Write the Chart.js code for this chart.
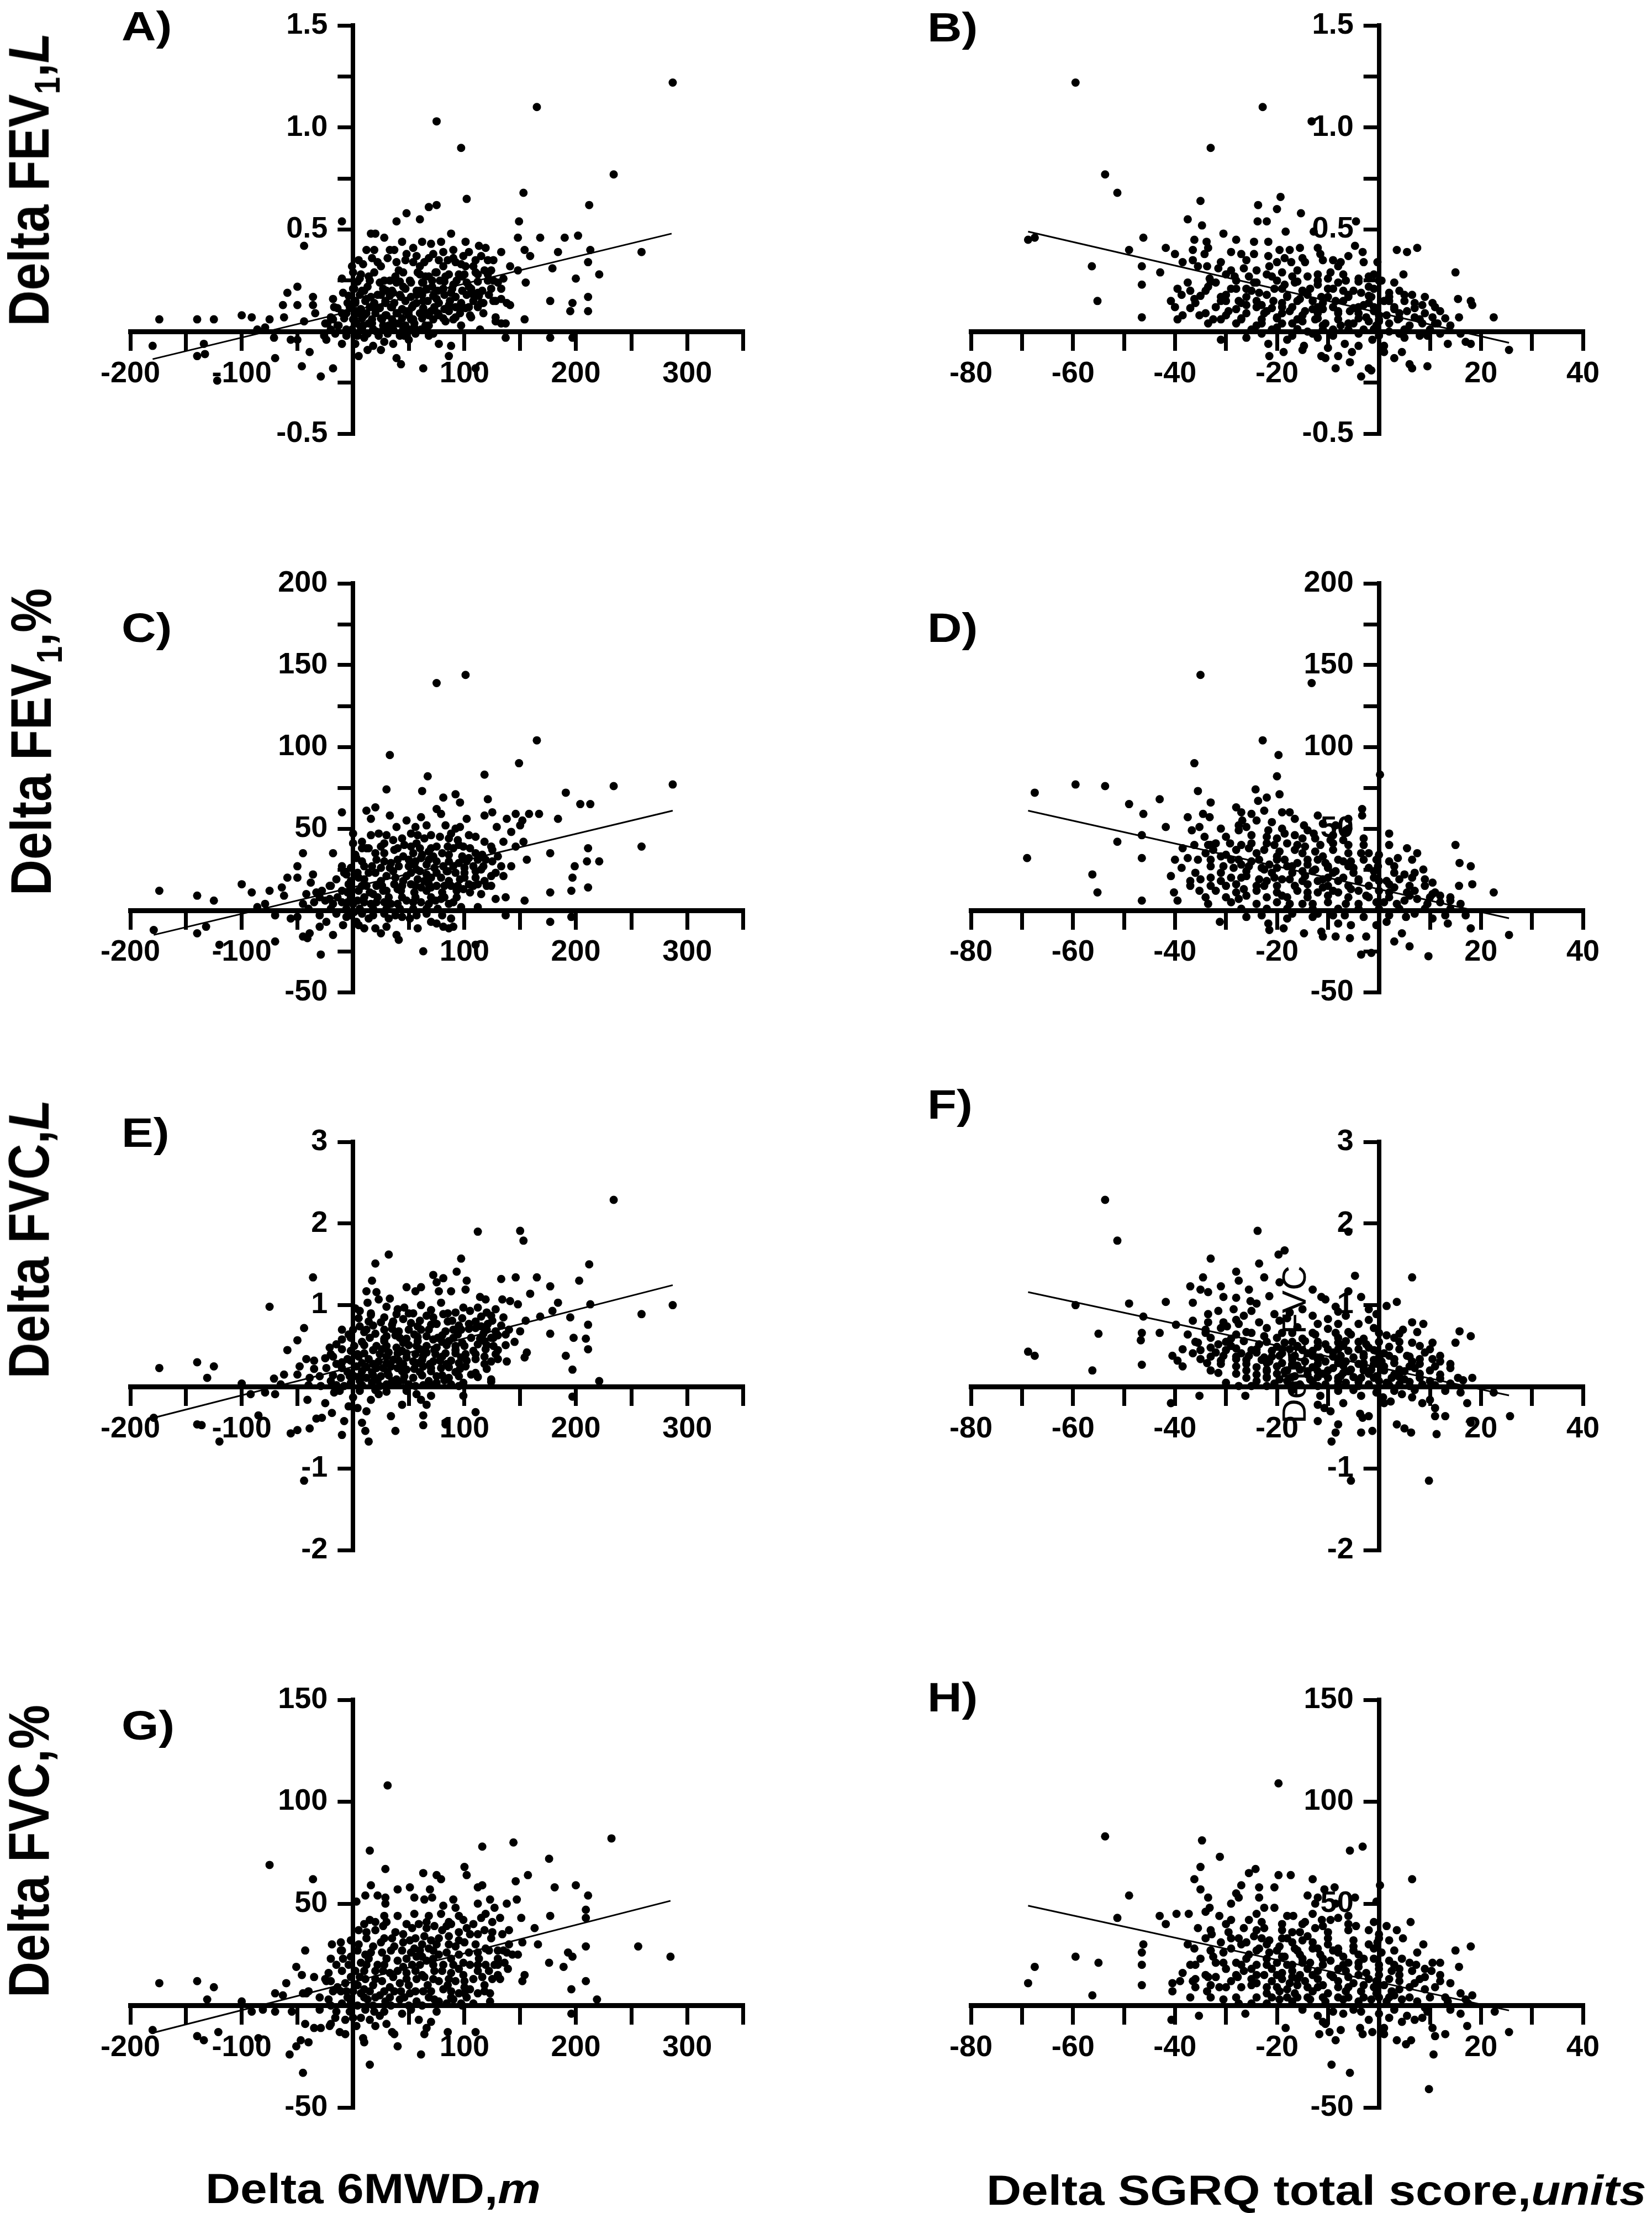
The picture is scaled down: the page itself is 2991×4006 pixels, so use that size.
<!DOCTYPE html>
<html>
<head>
<meta charset="utf-8">
<script src="https://cdn.jsdelivr.net/npm/chart.js@4.4.1/dist/chart.umd.min.js"></script>
<style>
html, body { margin: 0; padding: 0; background: #fff; }
#fig { position: relative; width: 2991px; height: 4006px; overflow: hidden; background: #fff; }
canvas { position: absolute; }
.txt { position: absolute; font-family: 'Liberation Sans', Arial, sans-serif; font-weight: bold; color: #000; white-space: nowrap; line-height: 1; }
.letter { font-size: 74px; transform-origin: 0 50%; transform: translateY(-50%) scaleX(1.17); }
.ytitle { font-size: 90px; transform: translate(-50%, -50%) rotate(-90deg) scaleY(1.16); }
.xtitle { font-size: 76px; transform-origin: 0 50%; transform: translateY(-50%) scaleX(1.15); }
.sub { font-size: 62%; position: relative; top: 0.3em; }
</style>
</head>
<body>
<div id="fig">
  <canvas id="cA" width="1360" height="879" style="left:60px;top:-14px"></canvas>
  <canvas id="cB" width="1400" height="879" style="left:1560px;top:-14px"></canvas>
  <canvas id="cC" width="1360" height="880" style="left:60px;top:996px"></canvas>
  <canvas id="cD" width="1400" height="880" style="left:1560px;top:996px"></canvas>
  <canvas id="cE" width="1360" height="879" style="left:60px;top:2007px"></canvas>
  <canvas id="cF" width="1400" height="879" style="left:1560px;top:2007px"></canvas>
  <canvas id="cG" width="1360" height="878" style="left:60px;top:3017px"></canvas>
  <canvas id="cH" width="1400" height="878" style="left:1560px;top:3017px"></canvas>

  <div class="txt letter" style="left:220px;top:48px">A)</div>
  <div class="txt letter" style="left:1679px;top:50px">B)</div>
  <div class="txt letter" style="left:220px;top:1137px">C)</div>
  <div class="txt letter" style="left:1679px;top:1137px">D)</div>
  <div class="txt letter" style="left:220px;top:2051px">E)</div>
  <div class="txt letter" style="left:1679px;top:2000px">F)</div>
  <div class="txt letter" style="left:220px;top:3124px">G)</div>
  <div class="txt letter" style="left:1679px;top:3073px">H)</div>

  <div class="txt ytitle" style="left:52px;top:325px">Delta FEV<span class="sub">1</span>,<i>L</i></div>
  <div class="txt ytitle" style="left:56px;top:1343px">Delta FEV<span class="sub">1</span>,%</div>
  <div class="txt ytitle" style="left:52px;top:2243px">Delta FVC,<i>L</i></div>
  <div class="txt ytitle" style="left:52px;top:3351px">Delta FVC,%</div>

  <div class="txt xtitle" style="left:372px;top:3962px">Delta 6MWD,<i>m</i></div>
  <div class="txt xtitle" style="left:1786px;top:3965px">Delta SGRQ total score,<i>units</i></div>

  <div class="txt" style="left:2343px;top:2434px;font-size:62px;font-weight:normal;transform:translate(-50%,-50%) rotate(-90deg)">Delta FVC</div>
</div>

<script>
// axis ranges [min, max, step] and the ticks that carry a label
const mwdRange = [-200, 350, 50];
const sgrqRange = [-80, 40, 10];
const fev1LRange = [-0.5, 1.5, 0.25];
const fev1PctRange = [-50, 200, 25];
const fvcLRange = [-2, 3, 1];
const fvcPctRange = [-50, 150, 50];

const mwdLabels = [-200, -100, 100, 200, 300];
const sgrqLabels = [-80, -60, -40, -20, 20, 40];
const fev1LLabels = [-0.5, 0.5, 1.0, 1.5];
const fev1PctLabels = [-50, 50, 100, 150, 200];
const fvcLLabels = [-2, -1, 1, 2, 3];
const fvcPctLabels = [-50, 50, 100, 150];

// A) delta 6MWD vs delta FEV1 (L)
const mwdFev1L = [[287,1.22],[165,1.10],[75,1.03],[97,0.90],[234,0.77],[153,0.68],[102,0.65],[212,0.62],[75,0.62],[68,0.61],[48,0.58],[60,0.55],[39,0.54],[-10,0.54],[149,0.54],[148,0.46],[168,0.46],[190,0.46],[202,0.47],[-44,0.42],[213,0.40],[184,0.39],[259,0.39],[159,0.37],[154,0.40],[179,0.31],[200,0.26],[211,0.34],[221,0.28],[177,0.15],[197,0.14],[211,0.17],[211,0.10],[195,0.10],[155,0.24],[154,0.06],[177,-0.03],[197,-0.03],[137,-0.03],[148,0.30],[141,0.32],[133,0.39],[135,0.26],[138,0.14],[141,0.13],[137,0.04],[114,0.01],[110,-0.18],[63,-0.18],[86,-0.12],[88,-0.07],[77,-0.06],[50,-0.04],[39,-0.13],[43,-0.16],[5,-0.12],[13,-0.09],[25,-0.09],[-10,-0.06],[-18,-0.18],[-29,-0.22],[-46,-0.17],[-39,-0.10],[-56,-0.04],[-50,-0.04],[-70,-0.13],[-71,-0.03],[-122,-0.24],[-133,-0.11],[-140,-0.12],[-134,-0.06],[-180,-0.07],[-174,0.06],[-140,0.06],[-125,0.06],[-100,0.08],[-91,0.07],[-75,0.06],[-86,0.01],[-79,0.02],[-62,0.07],[-63,0.13],[-59,0.19],[-50,0.22],[-50,0.13],[-36,0.17],[-36,0.13],[-44,0.05],[-34,0.09],[-25,0.04],[-24,-0.04],[-20,0.07],[-17,0.12],[-18,0.16],[-10,0.26],[-9,0.19],[-6,0.09],[-6,0.01],[-1,0.32],[0,0.29],[0,0.21],[2,0.15],[3,0.10],[1,0.06],[3,-0.01],[10,-0.03],[12,0.40],[16,0.48],[20,0.48],[28,0.46],[19,0.40],[14,0.27],[13,0.22],[12,0.16],[12,0.09],[14,0.04],[21,0.00],[25,0.32],[28,0.25],[30,0.20],[29,0.14],[29,0.08],[32,0.03],[33,0.40],[37,0.40],[39,0.34],[41,0.30],[39,0.24],[43,0.17],[39,0.09],[41,0.04],[46,-0.02],[48,0.38],[54,0.41],[54,0.34],[58,0.29],[52,0.24],[57,0.18],[54,0.13],[50,0.08],[54,0.06],[61,0.01],[60,0.32],[63,0.24],[63,0.15],[66,0.09],[68,0.03],[70,0.43],[72,0.38],[74,0.29],[71,0.22],[75,0.16],[77,0.08],[72,-0.01],[79,0.44],[81,0.39],[81,0.32],[83,0.27],[81,0.21],[86,0.13],[83,0.05],[88,0.48],[90,0.40],[92,0.34],[90,0.23],[92,0.17],[92,0.07],[97,0.03],[101,0.44],[104,0.39],[101,0.32],[100,0.28],[104,0.22],[104,0.12],[106,0.07],[110,0.35],[112,0.28],[112,0.19],[115,0.14],[117,0.09],[119,0.41],[121,0.35],[124,0.30],[121,0.25],[124,0.21],[126,0.15],[128,0.07],[126,0.35],[130,0.24],[133,0.16],[128,0.05],[133,0.04],[5,0.35],[8,0.20],[18,0.12],[22,0.18],[35,0.12],[45,0.22],[47,0.10],[60,0.20],[65,0.27],[68,0.36],[78,0.25],[85,0.35],[95,0.28],[97,0.12],[108,0.18],[118,0.30],[-5,0.14],[6,0.26],[26,0.06],[36,0.19],[55,0.02],[70,0.10],[88,0.19],[99,0.37],[113,0.42],[-14,0.03],[7,0.02],[17,0.36],[44,0.44],[62,0.44]];
const mwdFev1LCore = [[7,0.28],[19,0.29],[38,0.27],[45,0.29],[60,0.28],[68,0.27],[75,0.29],[86,0.28],[98,0.27],[110,0.29],[121,0.28],[1,0.21],[10,0.20],[27,0.21],[35,0.20],[47,0.21],[57,0.20],[66,0.21],[76,0.20],[89,0.21],[98,0.20],[106,0.21],[116,0.20],[133,0.21],[2,0.14],[11,0.15],[19,0.14],[29,0.15],[37,0.14],[47,0.15],[57,0.14],[67,0.15],[77,0.14],[87,0.15],[97,0.14],[108,0.15],[117,0.14],[128,0.15],[-10,0.09],[4,0.09],[10,0.08],[20,0.09],[30,0.08],[40,0.09],[50,0.10],[60,0.09],[68,0.08],[76,0.09],[86,0.10],[96,0.09],[105,0.08],[-23,0.04],[-13,0.03],[3,0.04],[9,0.03],[17,0.04],[27,0.03],[38,0.04],[47,0.03],[55,0.04],[65,0.03],[-26,-0.02],[-16,-0.01],[-6,-0.02],[4,-0.02],[13,-0.01],[23,-0.02],[31,-0.01],[42,-0.02],[56,-0.01],[68,-0.02],[2,-0.06],[18,-0.07],[28,-0.05],[36,-0.06]];
const mwdFev1LFill = [[4,0.245],[15,0.25],[24,0.24],[33,0.25],[42,0.245],[51,0.25],[62,0.24],[71,0.25],[82,0.245],[93,0.25],[102,0.24],[112,0.245],[126,0.25],[-4,0.175],[6,0.18],[16,0.17],[25,0.18],[33,0.175],[42,0.18],[52,0.17],[62,0.18],[72,0.175],[82,0.18],[92,0.17],[102,0.18],[113,0.175],[122,0.18],[-14,0.115],[-3,0.12],[7,0.11],[15,0.12],[24,0.115],[34,0.12],[44,0.11],[53,0.12],[63,0.115],[73,0.12],[82,0.11],[92,0.12],[101,0.115],[112,0.12],[-18,0.06],[-8,0.065],[0,0.06],[8,0.065],[17,0.06],[25,0.065],[35,0.06],[44,0.065],[52,0.06],[62,0.065],[72,0.06],[81,0.065],[90,0.06],[9,0.33],[22,0.34],[31,0.36],[47,0.35],[57,0.37],[64,0.34],[77,0.35],[90,0.36],[97,0.33],[108,0.32],[115,0.37],[-20,0.01],[-1,0.01],[8,0.01],[18,0.012],[27,0.01],[36,0.01],[45,0.012],[52,0.01],[64,0.01]];

// B) delta SGRQ vs delta FEV1 (L)
const sgrqFev1L = [[-59.5,1.22],[-22.8,1.10],[-13.2,1.03],[-33,0.90],[-53.7,0.77],[-51.3,0.68],[-19.3,0.66],[-35,0.64],[-23.7,0.62],[-20,0.60],[-15.3,0.58],[-23.8,0.54],[-22,0.54],[-37.5,0.55],[-34.7,0.52],[-4.5,0.54],[-12.8,0.49],[-18.3,0.49],[-30.5,0.48],[-28,0.45],[-36.2,0.45],[-46.2,0.46],[-68.8,0.45],[-67.5,0.46],[-49,0.40],[-41.8,0.41],[-40,0.38],[-36.5,0.40],[-33.8,0.44],[-33.5,0.41],[-34.2,0.38],[-36.5,0.35],[-38.5,0.34],[-35.5,0.32],[-33.7,0.32],[-31.5,0.31],[-29,0.39],[-27,0.38],[-24.5,0.44],[-21.7,0.44],[-24.5,0.38],[-21.7,0.37],[-19.5,0.40],[-17.5,0.40],[-18.5,0.36],[-17.2,0.34],[-15.5,0.41],[-14.5,0.34],[-12,0.41],[-11.5,0.38],[-11,0.35],[-7.5,0.34],[-6,0.37],[-4.7,0.42],[-3.2,0.39],[3.5,0.40],[5.5,0.39],[7.5,0.41],[-0.3,0.34],[4.8,0.28],[15,0.29],[-56.3,0.32],[-55.2,0.15],[-46.5,0.32],[-46.5,0.23],[-46.5,0.07],[-42.9,0.29],[-39.5,0.21],[-37.5,0.24],[-38.7,0.18],[-37,0.20],[-40.8,0.15],[-40,0.12],[-39.5,0.06],[-38.5,0.08],[-36.2,0.16],[-35.2,0.08],[-33.5,0.04],[-32.5,0.06],[-33.2,0.26],[-33.5,0.22],[-32,0.24],[-31,0.17],[-30,0.15],[-29.5,0.10],[-28.3,0.27],[-28,0.21],[-27.5,0.15],[-27,0.06],[-26.5,0.31],[-25.5,0.27],[-26,0.13],[-25,0.01],[-24.5,0.24],[-23.5,0.19],[-23,0.13],[-22.5,0.09],[-21.5,0.32],[-21,0.27],[-20.5,0.21],[-20.7,0.15],[-20,0.07],[-19,0.29],[-18.5,0.23],[-18,0.17],[-17.5,0.10],[-17,0.04],[-16.5,0.24],[-15.5,0.16],[-14.5,0.10],[-14,0.27],[-13.5,0.21],[-13,0.15],[-12.5,0.06],[-12,0.23],[-11.3,0.17],[-11,0.11],[-10.5,0.04],[-9.5,0.29],[-9,0.21],[-8.5,0.15],[-8,0.09],[-7.5,0.03],[-6.5,0.25],[-6,0.17],[-5.7,0.10],[-5,0.04],[-4,0.26],[-3.5,0.19],[-3,0.13],[-2.5,0.07],[-1.5,0.17],[-1,0.10],[-0.5,0.03],[0.5,0.25],[1,0.15],[1.5,0.08],[2,0.19],[3,0.12],[3.7,0.06],[5,0.15],[5.5,0.10],[6.5,0.18],[7,0.07],[8.5,0.13],[8.5,0.04],[10.5,0.14],[10.5,0.07],[11.5,0.04],[15.5,0.16],[15.7,0.07],[18,0.15],[18.3,0.13],[22.5,0.07],[25.5,-0.09],[-31,-0.04],[-26,-0.03],[-21.7,-0.06],[-21.5,-0.12],[-18.7,-0.10],[-18,-0.04],[-14.7,-0.07],[-12,-0.03],[-11.3,-0.12],[-10.5,-0.13],[-8.5,-0.18],[-8,-0.12],[-6.7,-0.06],[-5.7,-0.15],[-5.3,-0.10],[-3.5,-0.22],[-2,-0.18],[-1.5,-0.19],[-1.3,-0.04],[1,-0.07],[3,-0.13],[4.5,-0.10],[6,-0.16],[6.5,-0.18],[9.5,-0.17],[5,-0.03],[9.5,-0.02],[13.5,-0.06],[17,-0.05],[18,-0.06],[16,-0.01],[-16,0.30],[-10,0.26],[-7,0.20],[-4,0.12],[-2,0.22],[-19,0.12],[-15,0.20],[-24,0.30],[-26,0.21],[-29,0.30],[-12,0.12],[-9,0.01],[-3,0.01],[0,0.05],[2,0.00],[-14,0.00],[-20,0.02],[-23,0.04],[-8,0.32],[-1,0.28]];
const sgrqFev1LCore = [[-30,0.28],[-22,0.28],[-17,0.27],[-12,0.28],[-7,0.28],[-2,0.27],[-34,0.20],[-29,0.21],[-25,0.20],[-19,0.21],[-15,0.20],[-10,0.21],[-5,0.20],[-1,0.21],[4,0.20],[-36,0.14],[-31,0.15],[-27,0.14],[-24,0.15],[-19,0.14],[-16,0.15],[-11,0.14],[-7,0.15],[-2,0.14],[2,0.15],[7,0.14],[-34,0.09],[-30,0.08],[-26,0.09],[-22,0.10],[-19,0.09],[-15,0.08],[-12,0.09],[-8,0.10],[-4,0.09],[0,0.08],[4,0.09],[9,0.09],[12,0.10],[-28,0.04],[-24,0.03],[-19,0.04],[-15,0.05],[-11,0.03],[-6,0.04],[-2,0.05],[2,0.04],[6,0.03],[11,0.04],[14,0.03],[-23,-0.01],[-17,-0.02],[-13,-0.01],[-9,-0.02],[-4,-0.01],[0,-0.02],[4,-0.01],[8,-0.02],[12,-0.01],[-15,-0.09],[-10,-0.08],[-4,-0.07],[1,-0.10]];
const sgrqFev1LFill = [[-33,0.245],[-28,0.25],[-24,0.24],[-20,0.25],[-16,0.245],[-12,0.25],[-8,0.24],[-4,0.245],[0,0.25],[3,0.24],[-35,0.175],[-30,0.18],[-26,0.17],[-22,0.18],[-18,0.175],[-14,0.18],[-10,0.17],[-6,0.18],[-2,0.175],[2,0.17],[5,0.18],[9,0.17],[-37,0.115],[-32,0.12],[-28,0.11],[-24,0.12],[-21,0.115],[-17,0.12],[-13,0.11],[-9,0.12],[-5,0.115],[-1,0.12],[3,0.11],[7,0.115],[11,0.12],[-31,0.06],[-27,0.065],[-23,0.06],[-20,0.065],[-16,0.06],[-12,0.065],[-8,0.06],[-4,0.065],[0,0.06],[4,0.065],[8,0.06],[13,0.065],[-31,0.34],[-26,0.35],[-20,0.34],[-15,0.36],[-9,0.35],[-3,0.34],[-21,0.01],[-16,0.012],[-11,0.01],[-6,0.01],[-1,0.012],[5,0.01],[10,0.01]];

// C) delta 6MWD vs delta FEV1 (%)
const mwdFev1Pct = [[101,144],[75,139],[165,104],[33,95],[149,90],[118,83],[67,82],[287,77],[234,76],[30,74],[62,73],[191,72],[92,71],[81,69],[121,68],[204,65],[213,65],[96,66],[20,63],[12,61],[-10,60],[75,62],[125,60],[146,59],[158,59],[167,59],[118,58],[138,56],[184,56],[33,58],[16,56],[48,55],[61,57],[79,59],[102,56],[152,55],[39,51],[56,51],[66,52],[83,52],[92,50],[129,51],[142,48],[150,52],[0,47],[23,47],[52,47],[70,46],[86,44],[110,45],[0,41],[28,41],[46,40],[57,41],[75,39],[90,38],[99,39],[135,42],[146,39],[153,42],[-45,35],[-18,35],[14,38],[37,37],[54,35],[68,36],[86,34],[110,35],[125,37],[177,35],[211,38],[259,39],[3,32],[21,31],[34,29],[50,31],[61,32],[75,30],[95,29],[104,32],[119,31],[156,31],[210,30],[221,30],[-10,27],[10,27],[25,26],[41,27],[57,25],[81,27],[108,27],[133,27],[142,27],[199,27],[-50,27],[-6,22],[14,23],[30,21],[48,21],[66,22],[79,20],[92,23],[124,21],[135,21],[-59,20],[-36,22],[-50,20],[197,20],[-100,16],[-91,11],[-75,12],[-64,14],[-62,9],[-38,17],[-21,15],[-42,10],[-33,11],[-21,7],[-10,12],[-4,16],[8,15],[21,15],[37,16],[52,16],[61,14],[75,15],[88,15],[99,13],[104,16],[112,16],[124,15],[177,11],[196,12],[211,14],[128,7],[137,8],[154,6],[-174,12],[-140,9],[-125,6],[-79,4],[-86,2],[-45,4],[-25,6],[-10,5],[0,4],[10,5],[21,5],[34,4],[48,6],[61,5],[79,7],[86,4],[97,2],[112,2],[-179,-12],[-140,-14],[-132,-10],[-120,-21],[-70,-3],[-70,-19],[-56,-5],[-50,-4],[-45,-16],[-41,-17],[-39,-14],[-29,-27],[-24,-7],[-18,-15],[-9,-9],[-6,-4],[1,-1],[3,-7],[10,-11],[14,-5],[20,-11],[25,-14],[32,-5],[39,-15],[41,-18],[44,-4],[51,-5],[63,-25],[66,-2],[70,-7],[75,-8],[81,-10],[86,-11],[90,-10],[88,-5],[110,-21],[137,-3],[177,-7],[196,-4],[5,20],[18,10],[28,35],[43,12],[55,28],[64,18],[72,33],[85,24],[95,40],[100,20],[115,25],[44,44],[60,38],[78,45],[96,51],[8,38],[-2,10],[30,12],[70,14],[115,10]];
const mwdFev1PctCore = [[8,42],[36,43],[64,44],[94,43],[118,42],[2,34],[20,35],[45,33],[62,34],[80,35],[98,33],[116,34],[130,33],[-2,26],[17,27],[33,26],[50,27],[66,28],[73,26],[90,27],[100,26],[117,27],[-15,19],[-2,18],[10,19],[25,18],[38,20],[45,18],[58,19],[70,20],[86,18],[96,19],[110,20],[118,18],[-28,12],[-5,11],[5,12],[15,11],[27,12],[40,13],[55,11],[66,12],[80,11],[93,12],[105,11],[-35,5],[-18,4],[-5,5],[4,6],[16,4],[28,5],[40,4],[54,5],[68,4],[74,6],[90,5],[-30,-3],[-15,-2],[-2,-3],[8,-2],[18,-3],[28,-2],[38,-3],[57,-3],[80,-3],[-30,-10],[5,-9],[30,-10],[58,-11]];
const mwdFev1PctFill = [[12,38],[25,39],[40,38],[52,39],[70,38],[85,39],[105,38],[124,39],[8,30],[28,30],[40,31],[56,30],[68,31],[86,30],[102,30],[112,31],[125,30],[-8,23],[4,23],[20,23],[36,24],[52,23],[60,24],[75,23],[84,24],[100,23],[110,24],[128,23],[-20,15],[-2,15],[12,15],[26,15],[44,15],[56,15],[68,16],[82,15],[94,15],[108,15],[120,15],[-30,8],[-14,8],[-2,8],[10,8],[22,8],[32,8],[44,8],[56,8],[70,8],[82,8],[93,8],[-40,1],[-20,1],[-6,1],[6,1],[18,1],[30,1],[42,1],[54,1],[66,1],[76,1],[16,46],[30,46],[58,46],[88,47],[104,46]];

// D) delta SGRQ vs delta FEV1 (%)
const sgrqFev1Pct = [[-35,144],[-13.2,139],[-22.8,104],[-19.7,95],[-36.2,90],[-20,82],[0.2,83],[-59.5,77],[-53.7,76],[-24.2,74],[-67.5,72],[-35.5,73],[-19.5,71],[-43,68],[-22,69],[-23.7,67],[-49,65],[-33,66],[-28,63],[-3.3,62],[-46.2,59],[-34.5,59],[-33.2,57],[-27,60],[-25,59],[-22.5,61],[-19,60],[-17.5,60],[-37.5,57],[-26.8,55],[-24,55],[-21,54],[-16.5,56],[-14.7,52],[-12,58],[-6,56],[-3.3,58],[-41.8,51],[-35.2,51],[-27.5,52],[-11,53],[-8.5,52],[-36.7,49],[-27.5,49],[-21.7,49],[-18.5,47],[-12.8,47],[-6.5,49],[2,47],[-46.5,46],[-34.2,45],[-22,45],[-20,44],[-16.5,46],[-12.5,44],[-9.5,43],[-7,43],[-51.3,42],[-36.2,40],[-33.5,40],[-32,41],[-29.2,41],[-25,41],[-20.5,40],[-18,41],[-14.5,39],[-11.5,40],[-6,40],[15,40],[-38.5,38],[-32.5,37],[-28,37],[-25.5,38],[-22.5,37],[-19.5,36],[-16.5,37],[-12.5,36],[-9,37],[5.5,38],[7.5,35],[-3.5,35],[-2,35],[-69,32],[-46.5,32],[-40,31],[-37.5,32],[-35.5,31],[-31,33],[-27.5,31],[-23.5,31],[-21.5,28],[-18.5,31],[-16,29],[-14,31],[-10.5,29],[-8,31],[-5.5,30],[-0.5,31],[3.7,32],[6.5,31],[15.8,29],[-38.7,26],[-30.5,27],[-28.5,26],[-25.5,27],[-22.5,25],[-20,26],[-17,27],[-15,24],[-12.5,25],[-10,27],[-8.5,24],[-5,26],[-0.2,27],[8.7,25],[18,27],[-56.2,22],[-40.8,21],[-37,18],[-33,20],[-29,20],[-26,21],[-23.5,19],[-20.5,20],[-17.5,19],[-14.5,21],[-12,18],[-10,20],[-7,20],[-4,18],[-1,20],[1.5,18],[5,22],[6.5,20],[10.5,17],[18.3,16],[15.7,15],[-40.2,11],[-35.2,12],[-30,15],[-26.5,13],[-22.5,15],[-19,9],[-16.5,15],[-14,11],[-11,14],[-8,11],[-5.5,13],[-2.5,9],[0,12],[3,14],[5.5,11],[7.5,7],[10.5,10],[12,9],[14,6],[22.5,11],[-55.2,11],[-46.5,6],[-39.5,6],[-33.5,4],[-27.5,7],[-17.5,4],[-13,4],[-6.5,4],[-0.5,5],[3.5,4],[9.5,4],[-31.2,-7],[-26,-4],[-21.7,-8],[-21.5,-12],[-18.7,-11],[-18,-5],[-14.7,-14],[-12,-2],[-11.3,-13],[-11,-16],[-8.5,-16],[-8,-8],[-6.7,-3],[-5.7,-17],[-5.5,-9],[-3.5,-27],[-1.5,-26],[-2.5,-16],[-0.5,-9],[1.5,-7],[3,-19],[4.5,-14],[6,-22],[9.7,-28],[5.3,-4],[10.5,-5],[13.5,-8],[17,-3],[18,-11],[25.5,-15]];
const sgrqFev1PctCore = [[-30,45],[-25,46],[-15,44],[-9,46],[-3,44],[-34,35],[-30,34],[-24,35],[-20,33],[-15,35],[-11,33],[-6,35],[0,34],[-33,27],[-27,28],[-23,26],[-18,27],[-14,28],[-10,26],[-6,27],[-2,26],[3,27],[-35,19],[-31,18],[-27,20],[-22,18],[-19,19],[-15,18],[-11,19],[-8,18],[-4,19],[0,18],[4,19],[9,19],[-32,12],[-28,11],[-24,12],[-20,11],[-16,12],[-12,11],[-9,12],[-4,12],[2,11],[7,12],[11,11],[-29,5],[-24,4],[-20,5],[-15,4],[-10,5],[-4,4],[1,5],[5,6],[12,5],[16,4],[-23,-3],[-17,-2],[-13,-4],[-9,-3],[-3,-4],[2,-3],[7,-2],[13,-3]];
const sgrqFev1PctFill = [[-33,40],[-27,40],[-22,41],[-16,40],[-9,41],[-3,40],[2,40],[-33,31],[-29,31],[-25,30],[-20,31],[-12,31],[-7,30],[-3,31],[2,30],[-36,23],[-31,23],[-26,24],[-21,23],[-17,23],[-13,24],[-9,23],[-5,23],[-1,24],[3,23],[7,23],[-37,15],[-33,15],[-28,16],[-24,15],[-20,15],[-14,16],[-10,15],[-6,15],[-2,15],[2,16],[6,15],[9,15],[-34,8],[-30,8],[-26,9],[-22,8],[-18,8],[-14,8],[-10,9],[-6,8],[-2,8],[2,8],[6,9],[10,8],[14,8],[-27,1],[-22,1],[-18,1],[-13,1],[-8,1],[-4,1],[0,1],[4,1],[9,1],[14,1],[-31,50],[-26,51],[-19,50],[-14,49],[-6,50]];

// E) delta 6MWD vs delta FVC (L)
const mwdFvcL = [[234,2.29],[112,1.90],[150,1.91],[153,1.79],[32,1.62],[97,1.57],[20,1.51],[212,1.50],[93,1.41],[-36,1.34],[72,1.37],[81,1.33],[133,1.32],[146,1.34],[165,1.34],[203,1.30],[17,1.30],[102,1.30],[75,1.28],[48,1.22],[61,1.22],[177,1.23],[12,1.17],[21,1.16],[56,1.17],[77,1.17],[88,1.17],[101,1.19],[159,1.14],[114,1.10],[119,1.07],[134,1.07],[141,1.05],[184,1.03],[148,1.01],[287,1.00],[213,1.01],[-75,0.98],[2,0.96],[13,1.03],[23,1.07],[33,1.08],[30,0.98],[46,0.97],[61,1.00],[79,1.03],[99,0.97],[112,0.97],[128,0.95],[179,0.93],[259,0.89],[16,0.90],[39,0.89],[54,0.90],[66,0.87],[81,0.89],[92,0.91],[124,0.87],[168,0.86],[195,0.85],[25,0.79],[52,0.78],[75,0.77],[89,0.81],[104,0.77],[121,0.77],[155,0.81],[211,0.76],[-44,0.72],[-10,0.70],[0,0.70],[28,0.70],[41,0.68],[61,0.70],[83,0.68],[97,0.70],[110,0.72],[128,0.68],[150,0.68],[177,0.65],[10,0.67],[30,0.62],[48,0.59],[66,0.62],[72,0.58],[86,0.56],[106,0.60],[124,0.60],[137,0.64],[198,0.60],[209,0.59],[-50,0.57],[-10,0.58],[1,0.50],[21,0.50],[39,0.48],[57,0.50],[75,0.48],[92,0.50],[112,0.52],[126,0.50],[137,0.51],[211,0.46],[-59,0.45],[-21,0.48],[-10,0.46],[10,0.41],[32,0.42],[48,0.41],[66,0.42],[83,0.41],[101,0.40],[119,0.46],[156,0.42],[191,0.38],[-42,0.34],[-25,0.35],[-18,0.37],[-35,0.32],[-5,0.34],[14,0.34],[23,0.31],[41,0.32],[54,0.31],[72,0.31],[88,0.32],[110,0.34],[130,0.34],[138,0.31],[154,0.36],[-48,0.25],[-24,0.23],[3,0.25],[21,0.23],[34,0.25],[48,0.21],[63,0.25],[79,0.23],[101,0.25],[110,0.17],[106,0.15],[197,0.21],[-174,0.23],[-140,0.30],[-125,0.25],[-131,0.11],[-71,0.10],[-62,0.15],[-50,0.15],[-39,0.11],[-11,0.11],[1,0.13],[12,0.11],[25,0.13],[39,0.09],[54,0.11],[75,0.13],[86,0.11],[124,0.09],[-100,0.04],[-65,0.03],[-29,0.01],[-2,0.05],[17,0.05],[30,0.03],[50,0.03],[63,0.02],[75,0.05],[88,0.03],[99,0.05],[124,0.06],[221,0.07],[-179,-0.38],[-140,-0.46],[-136,-0.47],[-120,-0.67],[-92,-0.09],[-85,-0.35],[-79,-0.07],[-70,-0.09],[-56,-0.57],[-50,-0.53],[-39,-0.51],[-44,-1.15],[-41,-0.16],[-33,-0.39],[-28,-0.38],[-25,-0.20],[-19,-0.32],[-17,-0.07],[-10,-0.59],[-8,-0.42],[-4,-0.24],[0,-0.13],[4,-0.26],[8,-0.44],[11,-0.54],[14,-0.67],[12,-0.30],[16,-0.16],[23,-0.09],[34,-0.36],[38,-0.54],[44,-0.22],[57,-0.09],[61,-0.16],[66,-0.22],[63,-0.47],[63,-0.35],[70,-0.11],[83,-0.46],[99,-0.11],[110,-0.31],[197,-0.12]];
const mwdFvcLCore = [[6,0.93],[40,0.95],[70,0.94],[105,0.93],[5,0.84],[28,0.85],[45,0.83],[72,0.85],[98,0.84],[115,0.86],[135,0.85],[6,0.74],[18,0.75],[35,0.76],[58,0.74],[70,0.76],[95,0.75],[115,0.74],[133,0.75],[-4,0.64],[20,0.65],[38,0.63],[55,0.64],[80,0.63],[94,0.64],[117,0.65],[130,0.63],[8,0.55],[28,0.56],[45,0.54],[58,0.56],[80,0.55],[98,0.54],[118,0.56],[145,0.55],[-2,0.44],[18,0.45],[26,0.46],[44,0.44],[60,0.46],[73,0.45],[92,0.45],[108,0.44],[130,0.45],[5,0.37],[30,0.37],[48,0.36],[63,0.38],[80,0.37],[97,0.36],[118,0.37],[-15,0.28],[8,0.29],[18,0.28],[30,0.29],[45,0.28],[58,0.29],[69,0.28],[84,0.28],[95,0.29],[118,0.28],[-5,0.18],[8,0.19],[17,0.18],[31,0.18],[44,0.19],[60,0.18],[70,0.19],[92,0.18],[-20,0.07],[6,0.07],[22,0.08],[35,0.07],[45,0.08],[68,0.07],[82,0.08],[-12,-0.05],[6,-0.05],[20,-0.04],[30,-0.06],[48,-0.05]];
const mwdFvcLFill = [[16,0.88],[50,0.90],[85,0.90],[120,0.91],[14,0.80],[36,0.80],[60,0.81],[85,0.80],[110,0.80],[125,0.81],[12,0.70],[35,0.71],[50,0.70],[68,0.70],[90,0.70],[104,0.71],[120,0.70],[140,0.70],[-2,0.60],[15,0.60],[28,0.59],[42,0.60],[58,0.61],[76,0.60],[90,0.60],[114,0.59],[126,0.60],[-15,0.52],[10,0.51],[30,0.50],[50,0.51],[66,0.50],[84,0.51],[100,0.50],[120,0.51],[-20,0.40],[4,0.40],[24,0.40],[40,0.41],[56,0.40],[74,0.40],[92,0.41],[110,0.40],[128,0.40],[-10,0.30],[-2,0.32],[36,0.33],[62,0.33],[78,0.32],[102,0.32],[124,0.31],[-35,0.22],[-10,0.23],[12,0.24],[27,0.23],[40,0.23],[55,0.22],[70,0.23],[86,0.24],[96,0.22],[120,0.22],[-30,0.13],[-18,0.14],[-3,0.13],[6,0.13],[18,0.14],[32,0.14],[46,0.13],[62,0.14],[80,0.14],[95,0.13],[112,0.12],[-40,0.02],[-15,0.02],[-8,0.01],[8,0.02],[24,0.01],[40,0.02],[56,0.01],[70,0.02],[95,0.01]];

// F) delta SGRQ vs delta FVC (L)
const sgrqFvcL = [[-53.7,2.29],[-51.3,1.79],[-23.8,1.91],[-6,1.90],[-18.5,1.67],[-19.7,1.62],[-33,1.57],[-23.5,1.51],[-28,1.41],[-4.7,1.36],[6.5,1.34],[-34.5,1.34],[-22.5,1.34],[-27.5,1.30],[-37,1.23],[-35,1.19],[-31,1.23],[-19.5,1.28],[-25.5,1.19],[-13,1.19],[-6,1.17],[-33.5,1.16],[-30.5,1.10],[-28,1.09],[-21.5,1.11],[-11.3,1.10],[-3.5,1.10],[-10.5,1.07],[-25.2,1.05],[-24,1.02],[-36.5,1.03],[-59.5,1.00],[-49,1.02],[-41.8,1.04],[3.5,1.04],[1.5,0.99],[-2,0.95],[-8.5,0.98],[-31.5,0.93],[-28.5,0.95],[-33.5,0.89],[-26.5,0.87],[-20.5,0.89],[-17.5,0.91],[-13,0.87],[-6.5,0.87],[-0.5,0.89],[-46.2,0.86],[-36.5,0.81],[-33.5,0.79],[-30.5,0.79],[-27.5,0.77],[-23.5,0.79],[-19.5,0.81],[-12,0.77],[-8,0.77],[-4,0.77],[6.5,0.79],[8.7,0.77],[-39.8,0.76],[-29.8,0.74],[-34,0.70],[4.7,0.70],[7.5,0.67],[15.8,0.68],[18,0.62],[-55,0.65],[-46.5,0.66],[-43,0.66],[-37.5,0.64],[-28,0.64],[-25,0.66],[-22.5,0.62],[-17,0.66],[-12.5,0.64],[-8.5,0.66],[-5.5,0.64],[1.5,0.63],[-46.7,0.57],[-35.5,0.54],[-31.5,0.52],[-26.5,0.56],[-23.5,0.52],[-18.5,0.54],[-14.5,0.56],[-10.5,0.52],[-6.5,0.56],[-2.5,0.52],[6.5,0.54],[10.5,0.54],[15,0.54],[-38.5,0.46],[-33,0.48],[-28,0.47],[-25,0.45],[-21,0.44],[-17.5,0.46],[-13,0.44],[-8,0.46],[-4,0.46],[-0.5,0.44],[-68.8,0.43],[-67.5,0.38],[-40.5,0.38],[-36.5,0.41],[-30.5,0.38],[-28,0.34],[-25.5,0.38],[-22.5,0.36],[-19.5,0.38],[-16.5,0.38],[-11.5,0.36],[-7.5,0.38],[-5,0.36],[2,0.38],[5.5,0.38],[-39.5,0.32],[-46.5,0.27],[-38.5,0.25],[-33.7,0.29],[-31,0.32],[-21.5,0.31],[-19,0.29],[-14.5,0.31],[-10.5,0.31],[-6.5,0.31],[-3,0.29],[0.5,0.31],[10.5,0.34],[12,0.31],[6.5,0.31],[-56.2,0.20],[-31.5,0.17],[-22,0.21],[-18.5,0.19],[-15.5,0.21],[-12,0.19],[-9,0.23],[-5.5,0.21],[-1.5,0.21],[4,0.21],[7,0.23],[14,0.23],[-22,0.11],[-19.5,0.09],[-16.5,0.13],[-13.5,0.09],[-10,0.11],[-7.5,0.13],[-3.5,0.11],[-0.5,0.13],[2.5,0.11],[5,0.09],[15.5,0.11],[18.3,0.11],[16.5,0.08],[-30,0.05],[-27.5,0.01],[-25,0.01],[-20.5,0.04],[-15.5,0.03],[-10.5,0.03],[-6.5,0.05],[-2,0.03],[1.5,0.05],[4,0.03],[8.5,0.03],[14,0.04],[-35.2,-0.11],[-40.8,-0.20],[-26.2,-0.11],[-11.5,-0.11],[-12,-0.22],[-10.7,-0.26],[-9.5,-0.30],[-7,-0.20],[-12,-0.42],[-8,-0.46],[-8.5,-0.56],[-9.3,-0.67],[-3.5,-0.11],[-3.7,-0.33],[-3.2,-0.38],[-3.5,-0.56],[-2,-0.36],[-1.3,-0.54],[-0.5,-0.07],[0.8,-0.13],[2.3,-0.18],[1,-0.20],[3.5,-0.46],[5,-0.51],[6.3,-0.56],[4.5,-0.09],[6.5,-0.13],[8.5,-0.20],[10,-0.16],[11,-0.26],[11,-0.36],[13,-0.36],[11.3,-0.58],[16,-0.07],[17.3,-0.20],[18,-0.44],[22.5,-0.07],[25.7,-0.36],[-5.5,-1.15],[9.8,-1.15]];
const sgrqFvcLCore = [[-25,0.93],[-15,0.95],[-8,0.92],[-31,0.72],[-22,0.72],[-16,0.73],[-10,0.71],[-1,0.72],[-33,0.60],[-29,0.59],[-20,0.60],[-15,0.59],[-8,0.60],[-3,0.59],[3,0.60],[-29,0.50],[-20,0.49],[-16,0.50],[-12,0.49],[-7,0.50],[-2,0.48],[2,0.49],[8,0.50],[-32,0.42],[-27,0.41],[-24,0.42],[-19,0.41],[-14,0.41],[-9,0.42],[-3,0.40],[1,0.41],[9,0.42],[-35,0.34],[-26,0.33],[-23,0.33],[-17,0.33],[-12,0.34],[-8,0.33],[-1,0.33],[3,0.34],[8,0.34],[-28,0.25],[-24,0.24],[-20,0.25],[-16,0.26],[-13,0.24],[-7,0.26],[-3,0.24],[1,0.25],[6,0.25],[11,0.25],[-28,0.16],[-24,0.15],[-20,0.16],[-14,0.15],[-11,0.16],[-7,0.17],[-2,0.16],[3,0.15],[8,0.16],[12,0.15],[-24,0.07],[-18,0.07],[-13,0.06],[-8,0.07],[-4,0.06],[0,0.07],[6,0.06],[10,0.07],[-17,-0.04],[-8,-0.05],[-5,-0.04],[3,-0.05],[7,-0.04],[13,-0.05]];
const sgrqFvcLFill = [[-28,0.82],[-18,0.84],[-10,0.83],[-2,0.82],[-34,0.66],[-26,0.67],[-19,0.66],[-13,0.66],[-6,0.67],[0,0.66],[4,0.65],[-36,0.55],[-30,0.55],[-22,0.55],[-17,0.55],[-12,0.55],[-8,0.54],[-4,0.55],[0,0.55],[4,0.55],[-35,0.45],[-30,0.45],[-24,0.46],[-19,0.46],[-15,0.45],[-10,0.46],[-6,0.44],[-1,0.45],[4,0.46],[10,0.46],[-33,0.37],[-28,0.37],[-21,0.37],[-17,0.36],[-13,0.38],[-9,0.37],[-3,0.37],[0,0.36],[6,0.37],[12,0.38],[-31,0.28],[-26,0.28],[-22,0.29],[-17,0.28],[-12,0.28],[-8,0.29],[-4,0.28],[-1,0.28],[3,0.29],[8,0.28],[14,0.28],[-33,0.20],[-26,0.20],[-22,0.19],[-18,0.20],[-14,0.19],[-10,0.20],[-6,0.19],[-3,0.20],[1,0.20],[5,0.19],[10,0.20],[-26,0.11],[-22,0.12],[-17,0.12],[-12,0.12],[-8,0.11],[-5,0.12],[-1,0.11],[4,0.12],[8,0.11],[12,0.10],[-22,0.01],[-17,0.02],[-12,0.01],[-8,0.02],[-4,0.01],[2,0.02],[6,0.01],[11,0.02]];

// G) delta 6MWD vs delta FVC (%)
const mwdFvcPct = [[31,108],[232,82],[144,80],[116,78],[15,76],[176,72],[-75,69],[100,68],[29,67],[63,65],[75,64],[79,62],[102,64],[157,64],[-36,62],[146,61],[200,59],[16,59],[181,58],[112,58],[116,59],[51,58],[40,57],[69,57],[22,54],[11,54],[211,54],[3,51],[29,53],[55,53],[64,52],[71,53],[90,52],[112,50],[123,52],[147,52],[29,50],[81,49],[92,48],[127,48],[138,50],[209,47],[151,43],[177,44],[119,45],[28,44],[15,42],[20,41],[68,44],[79,45],[86,41],[99,42],[132,43],[209,43],[27,39],[59,40],[73,39],[53,38],[66,38],[84,39],[95,36],[105,35],[112,35],[125,36],[163,38],[12,36],[28,33],[45,35],[51,32],[64,34],[77,33],[134,35],[152,31],[-2,32],[-11,31],[-19,30],[18,29],[37,29],[55,28],[68,28],[86,30],[92,29],[119,28],[130,27],[166,30],[209,29],[256,29],[-11,27],[-43,27],[11,25],[26,26],[44,27],[62,24],[77,25],[95,25],[112,26],[138,26],[193,26],[197,24],[285,24],[-9,23],[7,21],[22,20],[40,22],[53,20],[66,22],[81,20],[99,21],[105,20],[119,20],[127,20],[136,21],[143,25],[148,25],[176,21],[-51,19],[-46,15],[-22,16],[2,17],[20,17],[33,16],[48,16],[62,15],[73,17],[88,16],[99,15],[112,17],[130,15],[139,18],[189,19],[-35,14],[-20,12],[-7,11],[11,13],[26,12],[42,11],[57,13],[77,12],[92,12],[108,13],[132,13],[154,15],[152,12],[209,12],[-174,11],[-140,12],[-125,9],[-60,11],[-24,12],[-70,6],[-63,5],[-45,6],[-42,6],[-22,3],[-11,7],[0,7],[7,6],[15,7],[24,5],[37,7],[51,6],[63,7],[73,3],[81,8],[95,6],[105,8],[112,6],[123,6],[196,8],[-131,3],[-100,2],[-2,2],[13,3],[29,2],[42,3],[57,2],[77,2],[90,3],[97,1],[123,2],[219,3],[-180,-12],[-140,-15],[-134,-17],[-121,-13],[-91,-3],[-81,-2],[-70,-3],[-85,-16],[-57,-24],[-51,-20],[-47,-17],[-40,-18],[-45,-33],[-43,-9],[-35,-11],[-29,-11],[-21,-10],[-16,-6],[-12,-13],[-7,-14],[-7,-7],[0,-6],[3,-10],[7,-6],[9,-16],[10,-18],[15,-29],[15,-7],[19,-3],[24,-5],[35,-13],[37,-14],[40,-20],[44,-4],[59,-7],[61,-24],[64,-14],[66,-11],[70,-8],[85,-13],[98,0],[110,-13],[196,-4]];
const mwdFvcPctCore = [[40,44],[55,45],[95,44],[115,43],[5,37],[20,37],[38,36],[80,37],[102,38],[118,37],[140,37],[5,30],[25,31],[45,31],[62,30],[75,30],[100,31],[110,30],[140,30],[-20,23],[-2,24],[14,23],[30,23],[48,23],[57,24],[72,23],[88,23],[113,23],[130,23],[-10,17],[10,17],[27,17],[40,17],[56,17],[80,17],[95,18],[122,17],[-14,9],[4,10],[18,10],[33,9],[50,10],[67,10],[85,10],[100,9],[118,10],[-30,4],[-5,4],[10,4],[20,4],[33,4],[46,4],[68,4],[88,4],[102,4],[-55,-3],[-30,-2],[-15,-3],[-3,-3],[11,-2],[28,-3],[52,-2],[75,-3],[-20,-9],[20,-10],[30,-9]];
const mwdFvcPctFill = [[10,40],[30,41],[48,40],[66,41],[88,40],[108,40],[125,41],[12,33],[35,33],[56,33],[70,32],[86,34],[95,32],[124,33],[-10,27],[4,27],[16,26],[34,27],[52,26],[60,27],[72,27],[84,26],[104,26],[122,27],[135,27],[-15,20],[-4,20],[12,20],[28,20],[45,19],[60,20],[72,20],[90,20],[112,20],[130,20],[-25,13],[-2,14],[6,14],[20,13],[36,14],[48,13],[64,14],[72,13],[86,13],[100,12],[116,14],[125,13],[-40,7],[-18,7],[-6,7],[10,8],[28,7],[43,7],[56,7],[70,7],[88,7],[100,6],[118,7],[-20,0],[-10,1],[4,0],[18,0],[34,0],[50,0],[62,0],[84,1],[108,1]];

// H) delta SGRQ vs delta FVC (%)
const sgrqFvcPct = [[-19.7,109],[-53.7,83],[-34.7,81],[-3.2,78],[-5.7,76],[-31.2,73],[6.5,62],[-35,68],[-24.2,67],[-25.5,65],[-19.7,64],[-17.3,64],[-36.2,62],[-13,62],[0.2,59],[-27,59],[-23.5,58],[-20.5,58],[-10.7,57],[-8.7,58],[-35,57],[-49,54],[-28,55],[-27.5,53],[-14,54],[-12,53],[-4.7,53],[-0.5,51],[-33.5,53],[-23.5,53],[-8.5,50],[-29,50],[-22.5,48],[-20.5,48],[-12.5,50],[-33.2,48],[-34,46],[-31.3,44],[-43,44],[-39.7,45],[-37.3,45],[-51.3,43],[-41.8,40],[-29,42],[-25.5,42],[-16.8,44],[-14.5,41],[-11.2,42],[-9.5,42],[-8,43],[6.2,41],[-35.5,38],[-29.5,36],[-26.5,38],[-22.5,38],[-19,37],[-15.5,36],[-12.5,38],[-4.5,39],[-2,37],[1.5,39],[3.5,37],[-32.8,35],[-27.5,33],[-24.5,34],[-21.5,32],[-18,33],[-14,34],[2,32],[4.7,33],[-0.3,31],[-37.5,30],[-36.2,28],[-27,30],[-23.5,28],[-19.5,29],[-16.5,28],[-12,28],[-8,28],[-5,29],[8.7,30],[-46.2,30],[18,29],[-33,27],[-30.5,26],[-25.5,25],[-21.5,26],[-18.5,24],[-15.5,25],[-11.5,25],[-8,26],[-4,25],[0.5,26],[7.5,26],[15,27],[-46.5,26],[-59.5,24],[-55,21],[-67.5,19],[-46.5,20],[-37,20],[-32.5,24],[-30.5,21],[-28,21],[-24,20],[-20,21],[-17,20],[-13.5,21],[-9.5,22],[-6,21],[-3,23],[4.5,23],[7.3,20],[10.5,21],[15.7,19],[-38.5,16],[-33.5,14],[-26.5,17],[-22.5,15],[-19,16],[-15.5,15],[-12,17],[-9.5,15],[-6.5,17],[-2.5,16],[2.5,17],[6.5,17],[10.3,17],[12,15],[-68.8,11],[-46.5,10],[-40.5,11],[-39,12],[-36.5,12],[-32,14],[-27.7,14],[-24,11],[-21,12],[-17.5,11],[-14.5,12],[-11,10],[-8,12],[-5,11],[-0.5,12],[4,12],[7,11],[14,11],[-40.5,7],[-33.7,7],[-31.3,9],[-22,6],[-19.5,7],[-16.5,6],[-13,7],[-10,6],[-6.5,7],[-3.5,7],[-0.5,6],[2.5,7],[16,6],[18.3,5],[-56.2,5],[-30.5,3],[-27.5,1],[-25,1],[-22,1],[-19.5,3],[-17,2],[-13.5,3],[-10.5,2],[-7,3],[-4,2],[-1.5,3],[1.5,2],[4.5,3],[7.5,2],[13.5,2],[-40.7,-7],[-35.3,-5],[-26.2,-4],[-18.3,-11],[-12,-5],[-11,-8],[-10.5,-9],[-11.7,-14],[-9.7,-13],[-8.5,-17],[-7.5,-12],[-9.3,-29],[-5.7,-33],[-7,-4],[-3.5,-3],[-2,-7],[-3.7,-11],[-3.2,-14],[-1.3,-13],[0,-4],[1,-11],[1,-14],[2,-6],[3.5,-17],[4.5,-8],[5.3,-19],[6.3,-17],[5.5,-5],[7,-7],[8.5,-6],[9.5,-3],[10.5,-11],[11,-15],[13,-14],[10.7,-24],[9.8,-41],[16,-4],[17.3,-10],[17.5,1],[22.7,-3],[25.5,-13]];
const sgrqFvcPctCore = [[-24,45],[-18,44],[-13,45],[-6,44],[-33,37],[-24,37],[-17,36],[-10,36],[-6,37],[0,35],[-31,31],[-26,31],[-22,30],[-17,31],[-13,31],[-10,30],[-2,30],[-35,23],[-26,23],[-22,23],[-19,24],[-15,23],[-11,23],[-7,24],[-1,23],[2,22],[-30,18],[-25,18],[-21,18],[-17,17],[-14,18],[-8,18],[-4,19],[0,18],[4,18],[9,18],[-36,13],[-29,12],[-25,13],[-19,13],[-16,13],[-12,13],[-6,14],[-2,13],[2,13],[8,13],[12,12],[-30,9],[-27,9],[-22,9],[-18,8],[-14,9],[-8,9],[-1,9],[4,8],[9,8],[-37,4],[-33,4],[-21,4],[-16,4],[-11,4],[-6,4],[0,4],[3,5],[10,4],[-15,-2],[-9,-3],[-5,-2],[3,-2],[9,-1],[14,-2]];
const sgrqFvcPctFill = [[-30,40],[-23,41],[-19,40],[-15,40],[-11,39],[-6,40],[-1,41],[-34,33],[-29,33],[-23,33],[-19,33],[-15,32],[-10,33],[-5,32],[0,33],[-33,27],[-29,28],[-24,27],[-20,27],[-16,27],[-13,28],[-9,27],[-5,27],[-1,28],[3,27],[-36,20],[-32,21],[-27,20],[-22,20],[-18,20],[-15,21],[-11,20],[-7,20],[-4,21],[0,20],[3,20],[6,21],[12,21],[-34,15],[-28,15],[-24,15],[-20,15],[-17,14],[-13,15],[-9,14],[-4,15],[0,15],[4,15],[9,14],[-36,9],[-33,10],[-25,10],[-20,9],[-16,10],[-12,9],[-6,9],[-3,10],[1,10],[6,9],[11,9],[-28,4],[-24,4],[-18,4],[-14,4],[-8,4],[-3,4],[2,4],[6,4],[13,4],[17,3]];

// fitted regression lines, end points
const fitA = [[-180, -0.135], [286, 0.48]];
const fitB = [[-68.8, 0.49], [25.5, -0.055]];
const fitC = [[-179, -15], [287, 61]];
const fitD = [[-68.8, 61], [25.5, -4.8]];
const fitE = [[-179, -0.38], [287, 1.245]];
const fitF = [[-68.8, 1.16], [25.5, -0.105]];
const fitG = [[-180, -13.4], [285, 51.4]];
const fitH = [[-68.8, 49], [25.5, -2.4]];

Chart.defaults.font.family = "'Liberation Sans', Arial, sans-serif";
Chart.defaults.color = '#000';

const toXY = arr => arr.map(p => ({ x: p[0], y: p[1] }));
const hasLabel = (list, v) => list.some(l => Math.abs(l - v) < 1e-6);
const tickFont = { size: 54, weight: 'bold' };

// the y axis is laid out as a zero-width left axis, then moved onto x = 0
// (its box keeps some width to the left so the tick labels are not clipped)
const yAtZero = {
    id: 'yAtZero',
    afterLayout(chart) {
        const px = chart.scales.x.getPixelForValue(0);
        chart.scales.y.left = px - 300;
        chart.scales.y.right = px;
        chart.scales.y.width = 300;
    }
};

// Render one scatter panel with axes crossing at zero
function renderPanel(id, points, fit, xr, yr, xLabels, yLabels, yFormat, left) {
    const ctx = document.getElementById(id).getContext('2d');
    return new Chart(ctx, {
        type: 'scatter',
        data: {
            datasets: [
                {
                    data: toXY(fit),
                    showLine: true,
                    borderColor: '#000',
                    borderWidth: 3,
                    pointRadius: 0,
                    clip: false
                },
                {
                    data: toXY(points),
                    backgroundColor: '#000',
                    borderWidth: 0,
                    pointRadius: 7.5,
                    clip: false
                }
            ]
        },
        options: {
            responsive: false,
            animation: false,
            devicePixelRatio: 1,
            layout: {
                padding: left ? { left: 176, right: 75, top: 60, bottom: 80 }
                              : { left: 198, right: 94, top: 60, bottom: 80 }
            },
            plugins: {
                legend: { display: false },
                tooltip: { enabled: false }
            },
            scales: {
                x: {
                    type: 'linear',
                    position: { y: 0 },
                    min: xr[0],
                    max: xr[1],
                    border: { display: true, color: '#000', width: 9 },
                    grid: { drawOnChartArea: false, drawTicks: true, tickLength: 30, color: '#000', lineWidth: 7 },
                    ticks: {
                        stepSize: xr[2],
                        autoSkip: false,
                        maxRotation: 0,
                        padding: 14,
                        font: tickFont,
                        color: '#000',
                        callback: v => hasLabel(xLabels, v) ? String(v) : ''
                    }
                },
                y: {
                    type: 'linear',
                    position: 'left',
                    afterFit: scale => { scale.width = 0; },
                    min: yr[0],
                    max: yr[1],
                    border: { display: true, color: '#000', width: 8 },
                    grid: { drawOnChartArea: false, drawTicks: true, tickLength: 28, color: '#000', lineWidth: 7 },
                    ticks: {
                        stepSize: yr[2],
                        autoSkip: false,
                        padding: 18,
                        font: tickFont,
                        color: '#000',
                        callback: v => hasLabel(yLabels, v) ? yFormat(v) : ''
                    }
                }
            }
        },
        plugins: [yAtZero]
    });
}

const oneDecimal = v => v.toFixed(1);
const plain = v => String(v);

renderPanel('cA', [...mwdFev1L, ...mwdFev1LCore, ...mwdFev1LFill], fitA, mwdRange, fev1LRange, mwdLabels, fev1LLabels, oneDecimal, true);
renderPanel('cB', [...sgrqFev1L, ...sgrqFev1LCore, ...sgrqFev1LFill], fitB, sgrqRange, fev1LRange, sgrqLabels, fev1LLabels, oneDecimal, false);
renderPanel('cC', [...mwdFev1Pct, ...mwdFev1PctCore, ...mwdFev1PctFill], fitC, mwdRange, fev1PctRange, mwdLabels, fev1PctLabels, plain, true);
renderPanel('cD', [...sgrqFev1Pct, ...sgrqFev1PctCore, ...sgrqFev1PctFill], fitD, sgrqRange, fev1PctRange, sgrqLabels, fev1PctLabels, plain, false);
renderPanel('cE', [...mwdFvcL, ...mwdFvcLCore, ...mwdFvcLFill], fitE, mwdRange, fvcLRange, mwdLabels, fvcLLabels, plain, true);
renderPanel('cF', [...sgrqFvcL, ...sgrqFvcLCore, ...sgrqFvcLFill], fitF, sgrqRange, fvcLRange, sgrqLabels, fvcLLabels, plain, false);
renderPanel('cG', [...mwdFvcPct, ...mwdFvcPctCore, ...mwdFvcPctFill], fitG, mwdRange, fvcPctRange, mwdLabels, fvcPctLabels, plain, true);
renderPanel('cH', [...sgrqFvcPct, ...sgrqFvcPctCore, ...sgrqFvcPctFill], fitH, sgrqRange, fvcPctRange, sgrqLabels, fvcPctLabels, plain, false);
</script>
</body>
</html>
